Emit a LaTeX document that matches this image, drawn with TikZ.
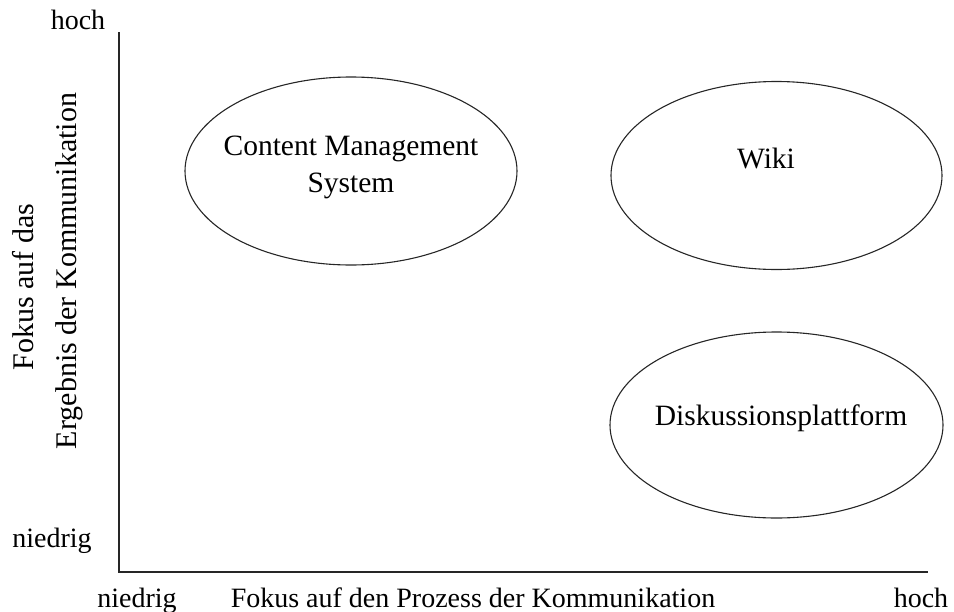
\documentclass[tikz,border=0pt]{standalone}
\usepackage{fontspec}
\setmainfont{Liberation Serif}
\usetikzlibrary{shapes.geometric}
\tikzset{
  axis/.style={draw=black!85, line width=0.7pt},
  oval/.style={ellipse, draw=black!85, line width=0.55pt, inner sep=0pt},
  axlabel/.style={font=\fontsize{14}{17}\selectfont, anchor=base, inner sep=0pt},
  vlabel/.style={font=\fontsize{15}{18}\selectfont, anchor=base, rotate=90, inner sep=0pt},
  ovtext/.style={font=\fontsize{14.75}{18.5}\selectfont, anchor=base, inner sep=0pt},
}
\begin{document}
\begin{tikzpicture}[x=0.5pt, y=-0.5pt]
\useasboundingbox (0,0) rectangle (954,611);
% axes
\coordinate (top) at (119,32);
\coordinate (origin) at (119,572);
\coordinate (right) at (928,572);
\draw[axis] (top) -- (origin) -- (right);
% ellipses
\node[oval, minimum width=166pt, minimum height=94pt] (cms) at (351,171) {};
\node[oval, minimum width=165.5pt, minimum height=94pt] (wiki) at (776.5,175.5) {};
\node[oval, minimum width=166.5pt, minimum height=93pt] (disk) at (776.5,425) {};
% ellipse texts
\node[ovtext] (cms1) at (351,155) {Content Management};
\node[ovtext] (cms2) at (351,192) {System};
\node[ovtext] (wikit) at (766,168) {Wiki};
\node[ovtext] (diskt) at (781,425) {Diskussionsplattform};
% axis labels
\node[axlabel] (yhoch) at (78,29) {hoch};
\node[axlabel] (ynied) at (52,547) {niedrig};
\node[axlabel] (xnied) at (137,607) {niedrig};
\node[axlabel] (xtitle) at (473,607) {Fokus auf den Prozess der Kommunikation};
\node[axlabel] (xhoch) at (921,607) {hoch};
\node[vlabel] (ytitle1) at (33,287) {Fokus auf das};
\node[vlabel] (ytitle2) at (76,271) {Ergebnis der Kommunikation};
\end{tikzpicture}
\end{document}
